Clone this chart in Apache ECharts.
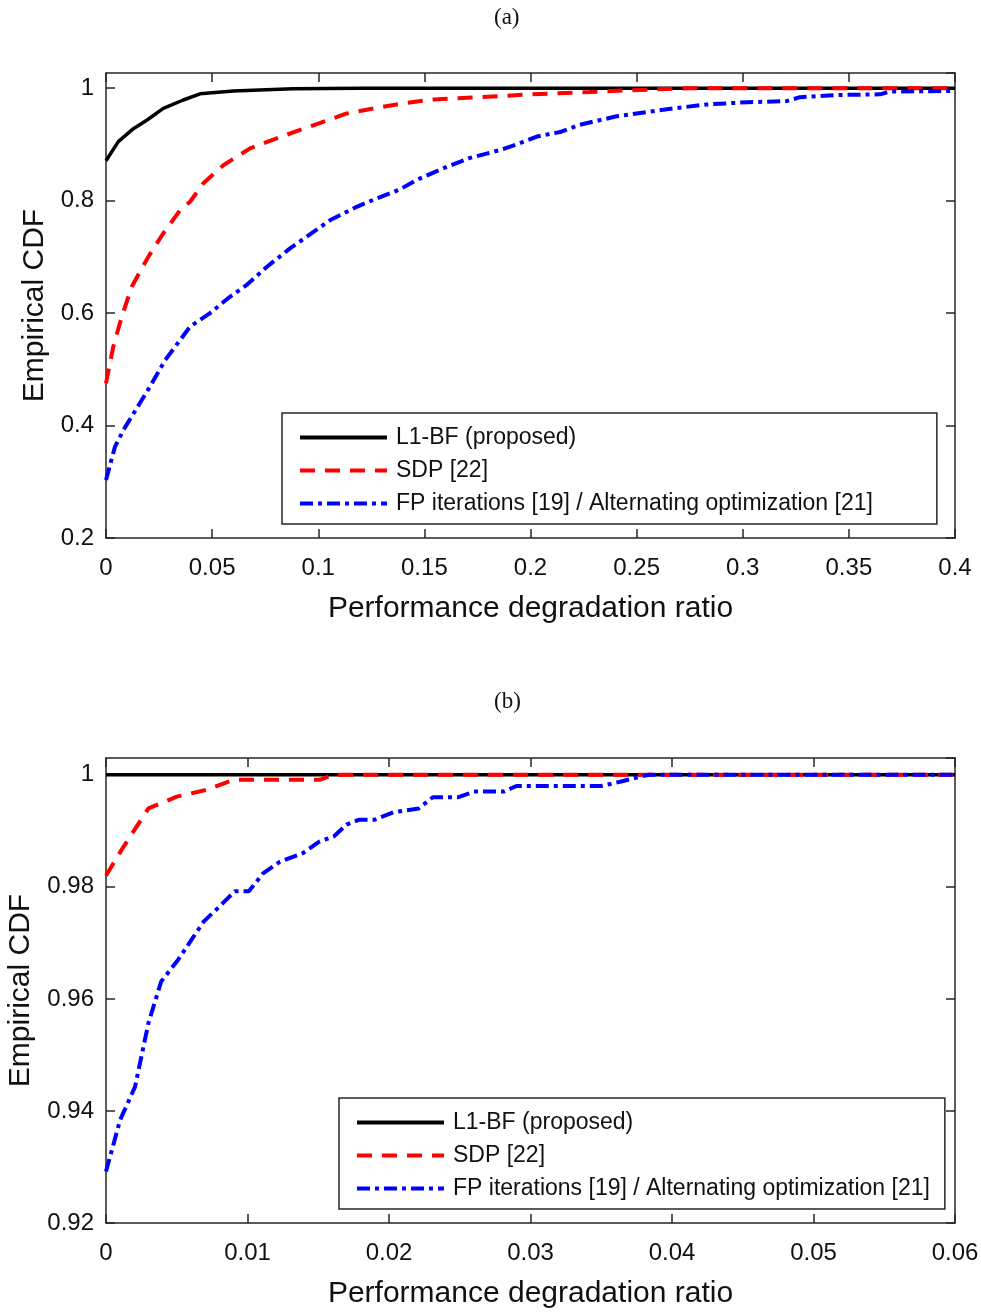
<!DOCTYPE html>
<html>
<head>
<meta charset="utf-8">
<script src="https://cdn.jsdelivr.net/npm/echarts@6/dist/echarts.min.js"></script>
<style>
  body { margin: 0; background: #fff; }
  #cdfchart { width: 981px; height: 1313px; }
</style>
</head>
<body>
<div id="cdfchart"></div>
<script>
var names = ['L1-BF (proposed)', 'SDP [22]', 'FP iterations [19] / Alternating optimization [21]'];

// (a) full range
var aL1X = [0, 0.0058, 0.0129, 0.0192, 0.027, 0.0364, 0.0443, 0.06, 0.088, 0.12, 0.4];
var aL1Y = [0.871, 0.905, 0.928, 0.943, 0.964, 0.979, 0.99, 0.995, 0.999, 1, 1];
var aSdpX = [0, 0.0034, 0.0074, 0.0121, 0.0199, 0.027, 0.0349, 0.0396, 0.0459, 0.0553, 0.0679, 0.082, 0.0977, 0.1134, 0.1276, 0.1417, 0.1543, 0.1857, 0.2, 0.2123, 0.228, 0.244, 0.26, 0.275, 0.4];
var aSdpY = [0.475, 0.54, 0.593, 0.647, 0.70, 0.742, 0.783, 0.798, 0.831, 0.863, 0.893, 0.913, 0.934, 0.955, 0.965, 0.974, 0.98, 0.986, 0.989, 0.991, 0.993, 0.996, 0.998, 1, 1];
var aFpX = [0, 0.0042, 0.0082, 0.016, 0.0207, 0.0278, 0.0349, 0.0396, 0.049, 0.0584, 0.0663, 0.0757, 0.0867, 0.0946, 0.1055, 0.1181, 0.1276, 0.1385, 0.1464, 0.1605, 0.1715, 0.1857, 0.1935, 0.203, 0.2139, 0.2233, 0.2406, 0.2673, 0.283, 0.3019, 0.3207, 0.327, 0.3458, 0.3646, 0.3694, 0.4];
var aFpY = [0.303, 0.362, 0.392, 0.44, 0.469, 0.516, 0.552, 0.576, 0.60, 0.629, 0.65, 0.682, 0.715, 0.736, 0.765, 0.789, 0.804, 0.82, 0.837, 0.86, 0.876, 0.89, 0.90, 0.914, 0.922, 0.935, 0.95, 0.964, 0.971, 0.975, 0.977, 0.984, 0.988, 0.989, 0.994, 0.995];

// (b) zoom near 1
var bL1X = [0, 0.06];
var bL1Y = [1, 1];
var bSdpX = [0, 0.0012, 0.003, 0.005, 0.0071, 0.009, 0.0151, 0.0161, 0.06];
var bSdpY = [0.982, 0.987, 0.994, 0.9961, 0.9973, 0.9991, 0.9991, 1, 1];
var bFpX = [0, 0.001, 0.00205, 0.003, 0.0039, 0.0051, 0.0069, 0.0079, 0.0091, 0.0101, 0.0111, 0.0123, 0.0139, 0.0151, 0.0161, 0.017, 0.0179, 0.019, 0.0203, 0.0221, 0.0231, 0.0249, 0.026, 0.0281, 0.029, 0.0307, 0.035, 0.0364, 0.0378, 0.0384, 0.06];
var bFpY = [0.9292, 0.9384, 0.9443, 0.9557, 0.9631, 0.967, 0.9738, 0.9762, 0.9792, 0.9792, 0.9824, 0.9845, 0.986, 0.9881, 0.989, 0.9911, 0.992, 0.992, 0.9933, 0.994, 0.996, 0.996, 0.997, 0.997, 0.998, 0.998, 0.998, 0.9988, 0.9997, 1, 1];

// axis limits
var aXTicks = {min: 0, max: 0.4, interval: 0.05};
var aYTicks = {min: 0.2, max: 1.027, interval: 0.2};
var bXTicks = {min: 0, max: 0.06, interval: 0.01};
var bYTicks = {min: 0.92, max: 1.003, interval: 0.02};

var axisColor = '#262626';
var font = 'Liberation Sans, Arial, sans-serif';

function pairs(xs, ys) {
  return xs.map(function (x, i) { return [x, ys[i]]; });
}

function xAxisFor(grid, t, top) {
  return {
    type: 'value', gridIndex: grid, position: top ? 'top' : 'bottom',
    min: t.min, max: t.max, interval: t.interval,
    splitLine: {show: false},
    axisLine: {onZero: false, lineStyle: {color: axisColor, width: 1.5}},
    axisTick: {inside: true, length: 9, lineStyle: {color: axisColor, width: 1.5}},
    axisLabel: {show: !top, margin: 18, color: '#111', fontSize: 24, fontFamily: font, showMaxLabel: true},
    name: top ? '' : 'Performance degradation ratio',
    nameLocation: 'middle', nameGap: 56,
    nameTextStyle: {color: '#111', fontSize: 30, fontFamily: font}
  };
}

function yAxisFor(grid, t, right, gap) {
  return {
    type: 'value', gridIndex: grid, position: right ? 'right' : 'left',
    min: t.min, max: t.max, interval: t.interval,
    splitLine: {show: false},
    axisLine: {onZero: false, lineStyle: {color: axisColor, width: 1.5}},
    axisTick: {inside: true, length: 9, lineStyle: {color: axisColor, width: 1.5}},
    axisLabel: {
      show: !right, margin: 12, color: '#111', fontSize: 24, fontFamily: font, showMaxLabel: false,
      formatter: function (v) {
        var k = (v - t.min) / t.interval;
        return Math.abs(k - Math.round(k)) < 1e-6 ? String(+v.toFixed(4)) : '';
      }
    },
    name: right ? '' : 'Empirical CDF',
    nameLocation: 'middle', nameGap: gap || 56,
    nameTextStyle: {color: '#111', fontSize: 30, fontFamily: font}
  };
}

var lineStyles = [
  {color: '#000000', width: 3.5, type: 'solid'},
  {color: '#ff0000', width: 4, type: [15, 10]},
  {color: '#0000ff', width: 4, type: [13, 5, 4, 5]}
];

function lineSeries(i, grid, xs, ys) {
  return {
    name: names[i], type: 'line',
    xAxisIndex: grid * 2, yAxisIndex: grid * 2,
    data: pairs(xs, ys),
    symbol: 'none', showSymbol: false,
    lineStyle: lineStyles[i],
    itemStyle: {color: lineStyles[i].color},
    z: 2 + i
  };
}

function legendFor(left, top, padRight) {
  return {
    orient: 'vertical', left: left, top: top,
    data: names,
    itemWidth: 87, itemHeight: 20, itemGap: 10,
    padding: [13, padRight, 9, 16],
    backgroundColor: '#fff',
    borderColor: axisColor, borderWidth: 1.5, borderRadius: 0,
    itemStyle: {opacity: 0},
    lineStyle: {width: 4},
    textStyle: {color: '#111', fontSize: 23, fontFamily: font, padding: [0, 0, 0, 4]},
    selectedMode: false
  };
}

var cdfChart = echarts.init(document.getElementById('cdfchart'));
var option = {
  animation: false,
  backgroundColor: '#fff',
  title: [
    {text: '(a)', left: 494, top: 6, padding: 0, textStyle: {fontFamily: 'Liberation Serif, Times New Roman, serif', fontSize: 23, fontWeight: 'normal', color: '#111'}},
    {text: '(b)', left: 494, top: 690, padding: 0, textStyle: {fontFamily: 'Liberation Serif, Times New Roman, serif', fontSize: 23, fontWeight: 'normal', color: '#111'}}
  ],
  grid: [
    {left: 106, top: 73, width: 849, height: 465, outerBoundsMode: 'none'},
    {left: 106, top: 758, width: 849, height: 465, outerBoundsMode: 'none'}
  ],
  xAxis: [
    xAxisFor(0, aXTicks, false), xAxisFor(0, aXTicks, true),
    xAxisFor(1, bXTicks, false), xAxisFor(1, bXTicks, true)
  ],
  yAxis: [
    yAxisFor(0, aYTicks, false, 56), yAxisFor(0, aYTicks, true),
    yAxisFor(1, bYTicks, false, 70), yAxisFor(1, bYTicks, true)
  ],
  legend: [legendFor(282, 413, 64), legendFor(339, 1098, 15)],
  series: [
    lineSeries(0, 0, aL1X, aL1Y),
    lineSeries(1, 0, aSdpX, aSdpY),
    lineSeries(2, 0, aFpX, aFpY),
    lineSeries(0, 1, bL1X, bL1Y),
    lineSeries(1, 1, bSdpX, bSdpY),
    lineSeries(2, 1, bFpX, bFpY)
  ]
};
cdfChart.setOption(option);
</script>
</body>
</html>
